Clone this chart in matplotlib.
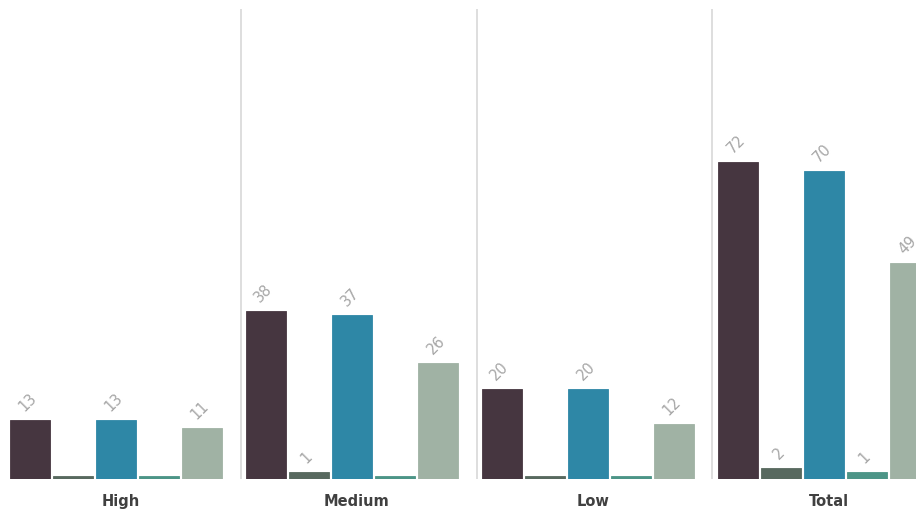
import matplotlib
matplotlib.use("Agg")
import matplotlib.pyplot as plt
import numpy as np

categories = ["High", "Medium", "Low", "Total"]
series_a = [13, 38, 20, 72]   # dark plum
series_b = [0, 1, 0, 2]       # slate green
series_c = [13, 37, 20, 70]   # blue
series_d = [0, 0, 0, 1]       # teal
series_e = [11, 26, 12, 49]   # sage

series = [series_a, series_b, series_c, series_d, series_e]
colors = ["#463640", "#58695f", "#2e87a6", "#4c9587", "#a0b2a4"]

fig = plt.figure(figsize=(9.16, 5.10), dpi=100)
ax = fig.add_axes([0, 30 / 510, 1, 470 / 510])

step = 0.1824
width = 0.17
base = -0.6
x = np.arange(len(categories))

for j, (vals, col) in enumerate(zip(series, colors)):
    pos = x + (j - 2) * step
    heights = [v - base for v in vals]
    ax.bar(pos, heights, width=width, bottom=base, color=col,
           edgecolor=col, linewidth=0.6)
    for px, v in zip(pos, vals):
        if v > 0:
            ax.annotate(str(v), (px, v), xytext=(-1.5, 5), textcoords="offset points",
                        ha="center", va="bottom", rotation=45,
                        fontsize=10.5, color="#a6a6a6")

for s in [0.53, 1.53, 2.525]:
    ax.axvline(s, color="#d4d4d4", linewidth=1.1, zorder=0)

ax.set_xlim(-0.491, 3.39)
ax.set_ylim(base, base + 470 / 4.363)
ax.set_xticks(x + 0.02)
ax.set_xticklabels(categories, fontsize=10.5, fontweight="bold", color="#404040")
ax.tick_params(axis="x", length=0, pad=10)
ax.set_yticks([])
for sp in ax.spines.values():
    sp.set_visible(False)

fig.savefig("out.png", dpi=100, facecolor="white")
